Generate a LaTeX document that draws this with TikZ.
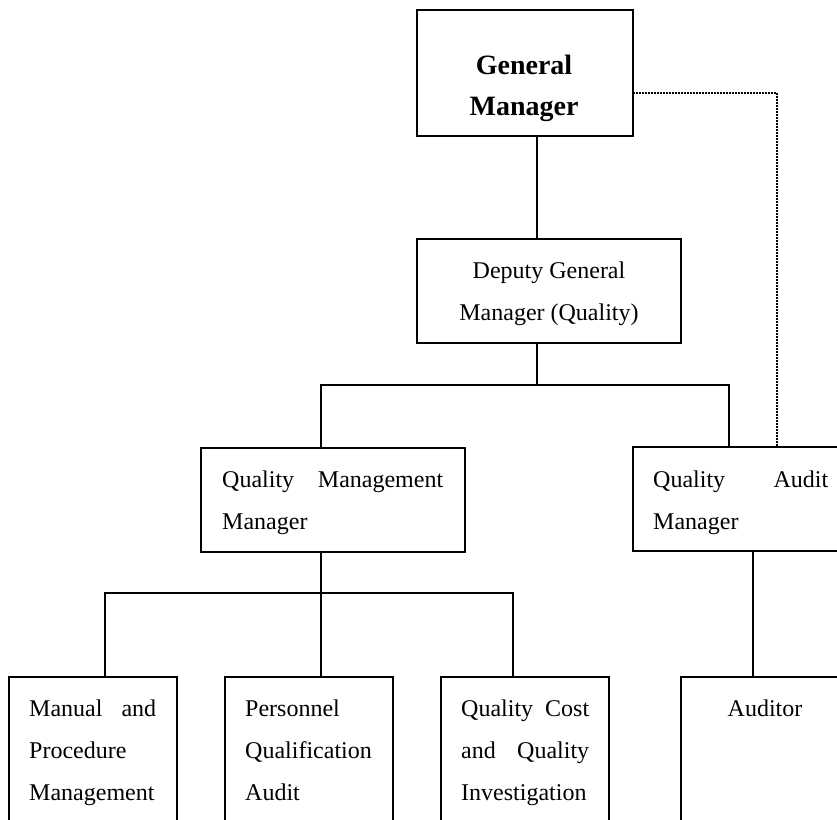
\documentclass[tikz,border=0pt]{standalone}
\usepackage{fontspec}
\setmainfont{Liberation Serif}
\begin{document}
\begin{tikzpicture}[x=1pt,y=-1pt,
  box/.style={draw=black,line width=1.8pt,fill=white,anchor=north west,inner sep=0pt,outer sep=0pt},
  txt/.style={inner sep=0pt,anchor=base west,font=\fontsize{24}{42}\selectfont},
  ctxt/.style={inner sep=0pt,anchor=base,font=\fontsize{24}{42}\selectfont},
  btxt/.style={inner sep=0pt,anchor=base,font=\fontsize{28}{40}\selectfont\bfseries},
  conn/.style={line width=1.8pt},
  dotline/.style={line width=1.5pt,dash pattern=on 1.5pt off 1.5pt}]
\clip (0,0) rectangle (837,819);
\fill[white] (0,0) rectangle (837,819);
% boxes
\node[box,minimum width=216,minimum height=126] (gm) at (417,10) {};
\node[box,minimum width=264,minimum height=104] (dgm) at (417,239) {};
\node[box,minimum width=264,minimum height=104] (qmm) at (201,448) {};
\node[box,minimum width=216,minimum height=104] (qam) at (633,447) {};
\node[box,minimum width=168,minimum height=170] (b1) at (9,677) {};
\node[box,minimum width=168,minimum height=170] (b2) at (225,677) {};
\node[box,minimum width=168,minimum height=170] (b3) at (441,677) {};
\node[box,minimum width=168,minimum height=170] (b4) at (681,677) {};
% texts
\node[btxt] (gm1) at (524,74) {General};
\node[btxt] (gm2) at (524,115) {Manager};
\node[ctxt] (dg1) at (549,278) {Deputy General};
\node[ctxt] (dg2) at (549,320) {Manager (Quality)};
\node[txt] (qm1) at (222,487) {\makebox[221pt][l]{Quality\hfill Management}};
\node[txt] (qm2) at (222,529) {Manager};
\node[txt] (qa1) at (653,487) {\makebox[175pt][l]{Quality\hfill Audit}};
\node[txt] (qa2) at (653,529) {Manager};
\node[txt] (b1a) at (29,716) {\makebox[127pt][l]{Manual\hfill and}};
\node[txt] (b1b) at (29,758) {Procedure};
\node[txt] (b1c) at (29,800) {Management};
\node[txt] (b2a) at (245,716) {Personnel};
\node[txt] (b2b) at (245,758) {Qualification};
\node[txt] (b2c) at (245,800) {Audit};
\node[txt] (b3a) at (461,716) {\makebox[128pt][l]{Quality\hfill Cost}};
\node[txt] (b3b) at (461,758) {\makebox[128pt][l]{and\hfill Quality}};
\node[txt] (b3c) at (461,800) {Investigation};
\node[ctxt] (b4a) at (765,716) {Auditor};
% junctions
\coordinate (j1) at (537,385);
\coordinate (xa) at (321,385);
\coordinate (xb) at (729,385);
\coordinate (ya) at (321,593);
\coordinate (yl) at (105,593);
\coordinate (yr) at (513,593);
\coordinate (za) at (753,600);
\coordinate (d) at (777,93);
% connectors
\draw[conn] (j1 |- gm.south) -- (j1 |- dgm.north);
\draw[conn] (j1 |- dgm.south) -- (j1);
\draw[conn] (xa |- qmm.north) -- (xa) -- (xb) -- (xb |- qam.north);
\draw[conn] (ya |- qmm.south) -- (ya);
\draw[conn] (yl |- b1.north) -- (yl) -- (yr) -- (yr |- b3.north);
\draw[conn] (ya) -- (ya |- b2.north);
\draw[conn] (za |- qam.south) -- (za |- b4.north);
\draw[dotline] (gm.east |- d) -- (d) -- (d |- qam.north);
\end{tikzpicture}
\end{document}
